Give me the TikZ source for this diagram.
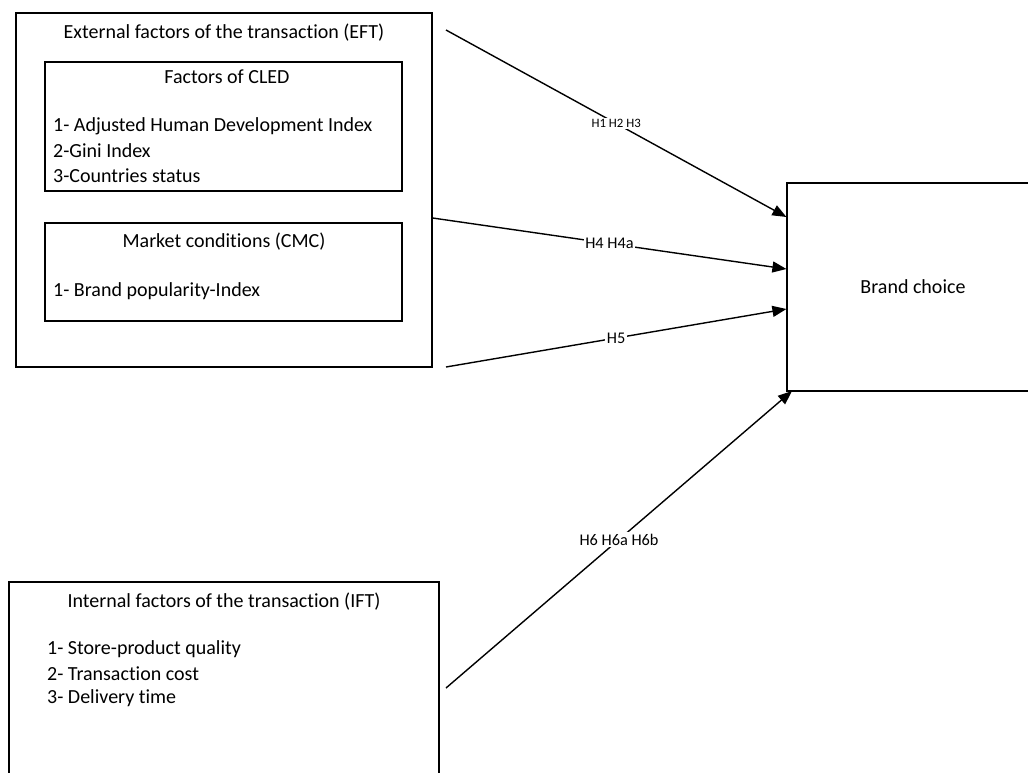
\documentclass[tikz,border=0pt]{standalone}
\usepackage{fontspec}
\setmainfont{Carlito}[Ligatures={NoCommon}]
\usetikzlibrary{arrows.meta}
\begin{document}
\begin{tikzpicture}[x=1pt,y=-1pt,
  box/.style={draw=black,line width=1.2pt,inner sep=0pt,rectangle},
  txt/.style={inner sep=0pt,font=\fontsize{20}{25}\selectfont},
  lbl/.style={fill=white,inner sep=1.5pt,font=\fontsize{16.3}{18}\selectfont},
  lblsm/.style={fill=white,inner sep=1.5pt,font=\fontsize{12.8}{16}\selectfont},
  conn/.style={line width=1.4pt,-{Triangle[length=14pt,width=11pt]}}]
\useasboundingbox (0,0) rectangle (1028,773);
\fill[white] (0,0) rectangle (1028,773);
% boxes
\node[box,minimum width=416pt,minimum height=354pt] (eft) at (224,190) {};
\node[box,minimum width=357pt,minimum height=129pt] (cled) at (223.5,126.5) {};
\node[box,minimum width=357pt,minimum height=98pt] (cmc) at (223.5,272) {};
\node[box,minimum width=430pt,minimum height=200pt] (ift) at (224,682) {};
\node[box,minimum width=250pt,minimum height=208pt] (brand) at (912,287) {};
% texts
\node[txt] (eftt) at (224,33) {External factors of the transaction (EFT)};
\node[txt] (cledt) at (227,77) {Factors of CLED};
\node[txt,anchor=west] (c1) at (53,126) {1- Adjusted Human Development Index};
\node[txt,anchor=west] (c2) at (53,151) {2-Gini Index};
\node[txt,anchor=west] (c3) at (53,176) {3-Countries status};
\node[txt] (cmct) at (224,242) {Market conditions (CMC)};
\node[txt,anchor=west] (m1) at (53,291) {1- Brand popularity-Index};
\node[txt] (iftt) at (224,602) {Internal factors of the transaction (IFT)};
\node[txt,anchor=west] (i1) at (47,649) {1- Store-product quality};
\node[txt,anchor=west] (i2) at (47,674) {2- Transaction cost};
\node[txt,anchor=west] (i3) at (47,698) {3- Delivery time};
\node[txt] (brandt) at (913,287) {Brand choice};
% connector ends
\coordinate (s1) at (446,30);
\coordinate (s2) at (eft.east |- 0,218);
\coordinate (s3) at (446,367);
\coordinate (s4) at (446,688);
\coordinate (e1) at (brand.west |- 0,217);
\coordinate (e2) at (brand.west |- 0,269);
\coordinate (e3) at (brand.west |- 0,309);
\coordinate (e4) at (792,391);
\draw[conn] (s1) -- node[lblsm] (l1) {H1 H2 H3} (e1);
\draw[conn] (s2) -- node[lbl] (l2) {H4 H4a} (e2);
\draw[conn] (s3) -- node[lbl] (l3) {H5} (e3);
\draw[conn] (s4) -- node[lbl] (l4) {H6 H6a H6b} (e4);
\end{tikzpicture}
\end{document}
